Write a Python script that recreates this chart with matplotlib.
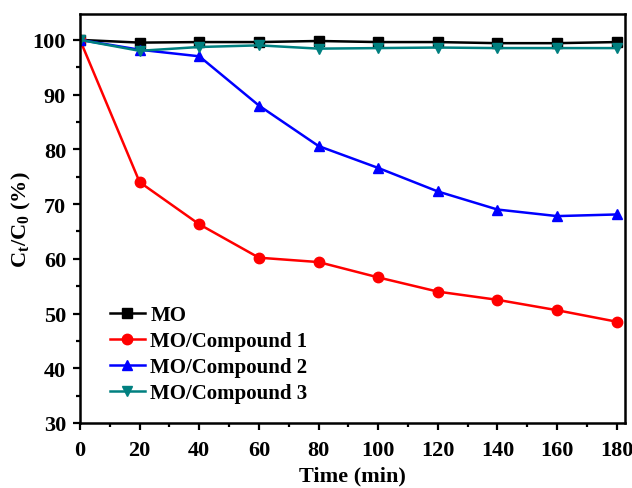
import numpy as np
import matplotlib.pyplot as plt
from matplotlib.ticker import MultipleLocator

plt.rcParams['font.family'] = ['Liberation Serif', 'DejaVu Serif']
plt.rcParams['font.weight'] = 'bold'
plt.rcParams['mathtext.fontset'] = 'custom'
plt.rcParams['mathtext.rm'] = 'Liberation Serif:bold'
plt.rcParams['mathtext.bf'] = 'Liberation Serif:bold'

# Données
temps = [0, 20, 40, 60, 80, 100, 120, 140, 160, 180]
mo = [100, 99.5, 99.6, 99.6, 99.8, 99.6, 99.6, 99.4, 99.4, 99.6]
mo_c1 = [100, 74.0, 66.3, 60.2, 59.4, 56.6, 54.0, 52.5, 50.6, 48.5]
mo_c2 = [100, 98.2, 97.0, 88.0, 80.6, 76.6, 72.3, 69.0, 67.8, 68.1]
mo_c3 = [100, 98.0, 98.7, 99.0, 98.4, 98.5, 98.6, 98.5, 98.5, 98.5]

fig = plt.figure(figsize=(6.32, 4.89), dpi=100)
ax = fig.add_axes([0.1266, 0.133, 0.862, 0.836])

ax.plot(temps, mo, '-s', color='black', lw=1.8, ms=6.5, label='MO')
ax.plot(temps, mo_c1, '-o', color='#ff0000', lw=1.8, ms=7.5, label='MO/Compound 1')
ax.plot(temps, mo_c2, '-^', color='#0000ff', lw=1.8, ms=7.5, label='MO/Compound 2')
ax.plot(temps, mo_c3, '-v', color='#008080', lw=1.8, ms=7.5, label='MO/Compound 3')

ax.set_xlim(0, 182.7)
ax.set_ylim(30, 104.7)
ax.xaxis.set_major_locator(MultipleLocator(20))
ax.xaxis.set_minor_locator(MultipleLocator(10))
ax.yaxis.set_major_locator(MultipleLocator(10))
ax.yaxis.set_minor_locator(MultipleLocator(5))
ax.tick_params(which='major', direction='out', length=5, width=1.6, labelsize=16)
ax.tick_params(which='minor', direction='out', length=3, width=1.6)
ax.tick_params(axis='x', which='major', pad=7)
ax.tick_params(axis='y', which='major', pad=5)
for s in ax.spines.values():
    s.set_linewidth(1.8)

ax.set_xlabel('Time (min)', fontsize=16, fontweight='bold', labelpad=4)
ax.set_ylabel('C$_\\mathbf{t}$/C$_\\mathbf{0}$ (%)', fontsize=16, fontweight='bold', labelpad=0)

ax.legend(loc='lower left', bbox_to_anchor=(0.02, 0.003), frameon=False,
          handlelength=1.7, labelspacing=0.28, handletextpad=0.25,
          prop={'weight': 'bold', 'size': 15})

plt.savefig('out.png', dpi=100)
